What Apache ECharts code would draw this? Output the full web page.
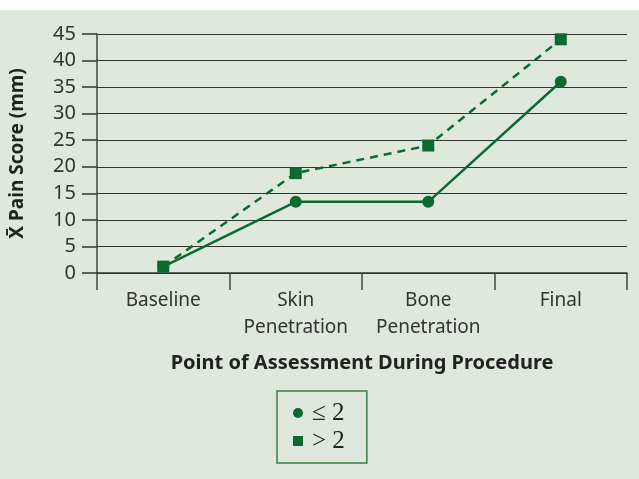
<!DOCTYPE html>
<html><head><meta charset="utf-8">
<script src="https://cdn.jsdelivr.net/npm/echarts@6/dist/echarts.min.js"></script>
<style>html,body{margin:0;padding:0;background:#fff}#c{width:639px;height:479px}</style>
</head><body><div id="c"></div>
<script>
const categories = ['Baseline', 'Skin\nPenetration', 'Bone\nPenetration', 'Final'];
const seriesLow = [1.2, 13.4, 13.4, 36];
const seriesHigh = [1.2, 18.8, 24, 44];
const seriesNames = ['\u2264 2', '> 2'];
const yTicks = {min: 0, max: 45, interval: 5};

const green = '#0b6a2f';
const serif = '"Liberation Serif", "DejaVu Serif", serif';
const chart = echarts.init(document.getElementById('c'), null, {renderer: 'canvas'});
chart.setOption({
  animation: false,
  backgroundColor: '#ffffff',
  graphic: [{type: 'rect', left: 0, top: 10, shape: {width: 639, height: 469}, style: {fill: '#dfe8dd'}, z: -10, silent: true}],
  grid: {left: 96, right: 12, top: 34, bottom: 206},
  xAxis: {
    type: 'category', data: categories, boundaryGap: true,
    axisLine: {show: true, lineStyle: {color: '#333', width: 1.5}},
    axisTick: {show: true, interval: 0, length: 17, lineStyle: {color: '#444', width: 1.5}},
    axisLabel: {interval: 0, color: '#333', fontSize: 19, fontFamily: 'Noto Sans', lineHeight: 27, margin: 14},
    name: 'Point of Assessment During Procedure', nameLocation: 'middle', nameGap: 80,
    nameTextStyle: {color: '#222', fontSize: 20, fontWeight: 'bold', fontFamily: 'Noto Sans'}
  },
  yAxis: {
    type: 'value', min: yTicks.min, max: yTicks.max, interval: yTicks.interval,
    axisLine: {show: true, lineStyle: {color: '#444', width: 1.5}},
    axisTick: {show: true, length: 15, lineStyle: {color: '#333', width: 1.5}},
    splitLine: {show: true, lineStyle: {color: '#333', width: 1.2}},
    axisLabel: {color: '#333', fontSize: 20, fontFamily: 'Noto Sans', margin: 21},
    name: 'X\u0304 Pain Score (mm)', nameLocation: 'middle', nameGap: 70, nameRotate: 90,
    nameTextStyle: {color: '#222', fontSize: 19, fontWeight: 'bold', fontFamily: 'Noto Sans'}
  },
  legend: {
    orient: 'vertical', left: 277, top: 391,
    borderColor: '#3b7d4b', borderWidth: 1.5, padding: [8, 22, 8, 16],
    itemGap: 0, itemWidth: 10, itemHeight: 10,
    formatter: function (name) { return '{s|' + name + '}'; },
    textStyle: {
      color: '#222', fontSize: 25, lineHeight: 28, padding: [0, 0, 0, 4],
      rich: {s: {fontFamily: serif, fontSize: 25, color: '#222', lineHeight: 28}}
    },
    data: [
      {name: seriesNames[0], icon: 'circle'},
      {name: seriesNames[1], icon: 'rect'}
    ]
  },
  series: [
    {name: seriesNames[0], type: 'line', data: seriesLow, symbol: 'circle', symbolSize: 12,
     lineStyle: {color: green, width: 2.5}, itemStyle: {color: green}, z: 3},
    {name: seriesNames[1], type: 'line', data: seriesHigh, symbol: 'rect', symbolSize: 12,
     lineStyle: {color: green, width: 2.5, type: [8, 6]}, itemStyle: {color: green}, z: 2}
  ]
});
</script></body></html>
